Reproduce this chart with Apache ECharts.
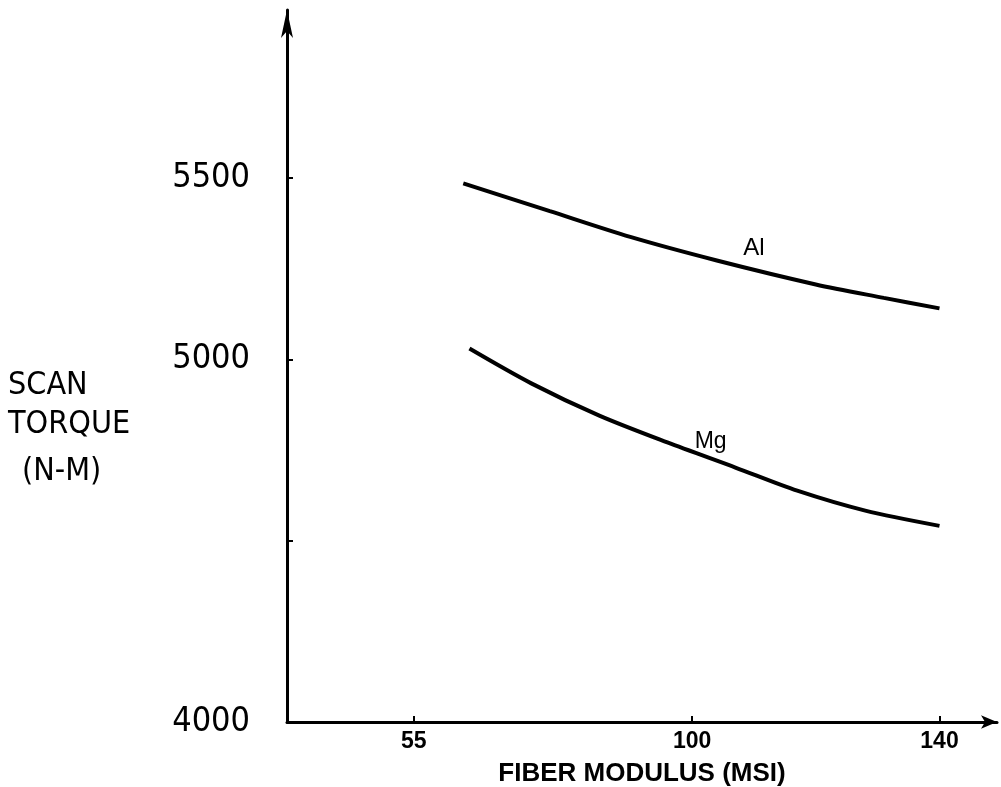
<!DOCTYPE html>
<html>
<head>
<meta charset="utf-8">
<script src="https://cdn.jsdelivr.net/npm/echarts@6/dist/echarts.min.js"></script>
<style>
html,body{margin:0;padding:0;background:#fff;overflow:hidden;}
#chart{width:1001px;height:787px;}
</style>
</head>
<body>
<div id="chart"></div>
<script>
// ---- data ----
const xTicks = [55, 100, 140];
const yTicks = [4000, 4500, 5000, 5500];
const yLabels = [4000, 5000, 5500];
const alData = [[63, 5486], [77, 5409], [90, 5338], [104, 5273], [120, 5207], [131, 5170], [140, 5141]];
const mgData = [[64, 5030], [74, 4934], [85, 4845], [96, 4771], [107, 4702], [117, 4638], [128, 4583], [140, 4541]];
const alLabelAt = [110, 5306];
const mgLabelAt = [103, 4774];

const numFont = '"Liberation Sans Narrow", "DejaVu Sans Condensed", sans-serif';
const boldFont = '"Liberation Sans", Arial, sans-serif';

const chart = echarts.init(document.getElementById('chart'), null, {renderer: 'canvas'});
chart.setOption({
  backgroundColor: '#ffffff',
  animation: false,
  grid: {left: 287, right: 4, top: 10, bottom: 65, containLabel: false, outerBoundsMode: 'none'},
  xAxis: {
    type: 'value', min: 34.5, max: 149.3,
    name: 'FIBER MODULUS (MSI)', nameLocation: 'middle', nameGap: 39,
    nameTextStyle: {color: '#000', fontSize: 26, fontWeight: 'bold', fontFamily: boldFont},
    axisLine: {lineStyle: {color: '#000', width: 3}, symbol: ['none', 'arrow'], symbolSize: [10, 16]},
    axisTick: {show: true, inside: true, length: 6, lineStyle: {color: '#000', width: 2}, customValues: xTicks},
    axisLabel: {color: '#000', fontSize: 23, fontWeight: 'bold', fontFamily: boldFont, margin: 8, customValues: xTicks},
    splitLine: {show: false}
  },
  yAxis: {
    type: 'value', min: 4000, max: 5964,
    axisLine: {show: true, lineStyle: {color: '#000', width: 3}, symbol: ['none', 'arrow'], symbolSize: [9, 28]},
    axisTick: {show: true, inside: true, length: 6, lineStyle: {color: '#000', width: 2}, customValues: yTicks},
    axisLabel: {color: '#000', fontSize: 34, fontFamily: numFont, margin: 37, customValues: yLabels,
      formatter: function (v) { return String(v); }},
    splitLine: {show: false}
  },
  graphic: [
    {type: 'text', left: 8, top: 370, style: {text: 'SCAN', fill: '#000', font: '32px ' + numFont}},
    {type: 'text', left: 8, top: 409, style: {text: 'TORQUE', fill: '#000', font: '32px ' + numFont}},
    {type: 'text', left: 22, top: 456, style: {text: '(N-M)', fill: '#000', font: '32px ' + numFont}}
  ],
  series: [
    {
      name: 'Al', type: 'line', data: alData, smooth: 0.3, showSymbol: false,
      lineStyle: {color: '#000', width: 4},
      markPoint: {symbol: 'circle', symbolSize: 0, data: [{coord: alLabelAt, value: 'Al'}],
        label: {show: true, position: 'inside', formatter: 'Al', color: '#000', fontSize: 24, fontFamily: boldFont}}
    },
    {
      name: 'Mg', type: 'line', data: mgData, smooth: 0.3, showSymbol: false,
      lineStyle: {color: '#000', width: 4},
      markPoint: {symbol: 'circle', symbolSize: 0, data: [{coord: mgLabelAt, value: 'Mg'}],
        label: {show: true, position: 'inside', formatter: 'Mg', color: '#000', fontSize: 23, fontFamily: boldFont}}
    }
  ]
});
</script>
</body>
</html>
